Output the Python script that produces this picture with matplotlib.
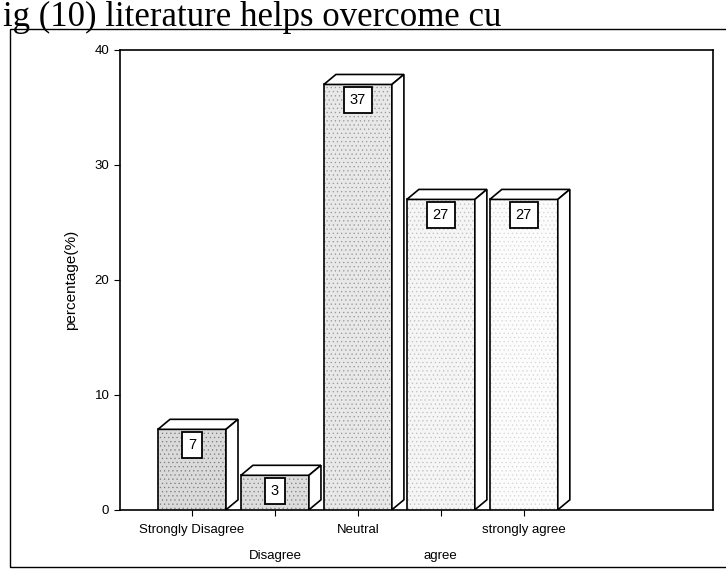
import matplotlib
matplotlib.use("Agg")
import matplotlib.pyplot as plt
from matplotlib.patches import Polygon, Rectangle

plt.rcParams["font.family"] = ["Liberation Sans", "DejaVu Sans"]

categories = ["Strongly Disagree", "Disagree", "Neutral", "agree", "strongly agree"]
values = [7, 3, 37, 27, 27]
face_colors = ["#dadada", "#dddddd", "#e8e8e8", "#f5f5f5", "#fcfcfc"]
dot_colors = ["#7a7a7a", "#7f7f7f", "#959595", "#bdbdbd", "#d5d5d5"]

fig = plt.figure(figsize=(7.26, 5.88), dpi=100)
ax = fig.add_axes([0.165, 0.133, 0.817, 0.782])

w = 0.82
dx = 0.145
dy = 0.87
for i, v in enumerate(values):
    x0 = i - w / 2
    x1 = i + w / 2
    # stippled fill, then a black outline on top
    fill = Rectangle((x0, 0), w, v, facecolor=face_colors[i], edgecolor=dot_colors[i],
                     linewidth=0, hatch="....", zorder=3)
    fill.set_hatch_linewidth(0.4)
    ax.add_patch(fill)
    ax.add_patch(Rectangle((x0, 0), w, v, fill=False, edgecolor="black", linewidth=1.2, zorder=3))
    top = Polygon([(x0, v), (x1, v), (x1 + dx, v + dy), (x0 + dx, v + dy)],
                  closed=True, facecolor="white", edgecolor="black", linewidth=1.2, zorder=3)
    ax.add_patch(top)
    side = Polygon([(x1, 0), (x1 + dx, dy), (x1 + dx, v + dy), (x1, v)],
                   closed=True, facecolor="white", edgecolor="black", linewidth=1.2, zorder=3)
    ax.add_patch(side)
    ax.text(i, v - 1.35, str(v), ha="center", va="center", fontsize=10.5, zorder=4,
            bbox=dict(boxstyle="square,pad=0.4", facecolor="white", edgecolor="black", linewidth=1.3))

ax.set_xlim(-0.87, 6.28)
ax.set_ylim(0, 40)
ax.set_yticks([0, 10, 20, 30, 40])
ax.set_xticks(range(len(categories)))
ax.set_xticklabels(categories, fontsize=9.5)
for i, t in enumerate(ax.xaxis.get_major_ticks()):
    t.set_pad(6 if i % 2 == 0 else 25)
ax.tick_params(axis="y", labelsize=9.5, length=4)
ax.tick_params(axis="x", length=4)
ax.set_ylabel("percentage(%)", fontsize=11, labelpad=12)
for s in ax.spines.values():
    s.set_linewidth(1.2)

# outer frame of the figure panel
fig.patches.append(Rectangle((0.014, 0.035), 1.2, 0.915, transform=fig.transFigure,
                             fill=False, edgecolor="black", linewidth=1.0))
fig.text(0.004, 0.956, "ig (10) literature helps overcome cu",
         family="Liberation Serif", fontsize=25, ha="left", va="baseline")

fig.savefig("out.png", dpi=100)
plt.close()
